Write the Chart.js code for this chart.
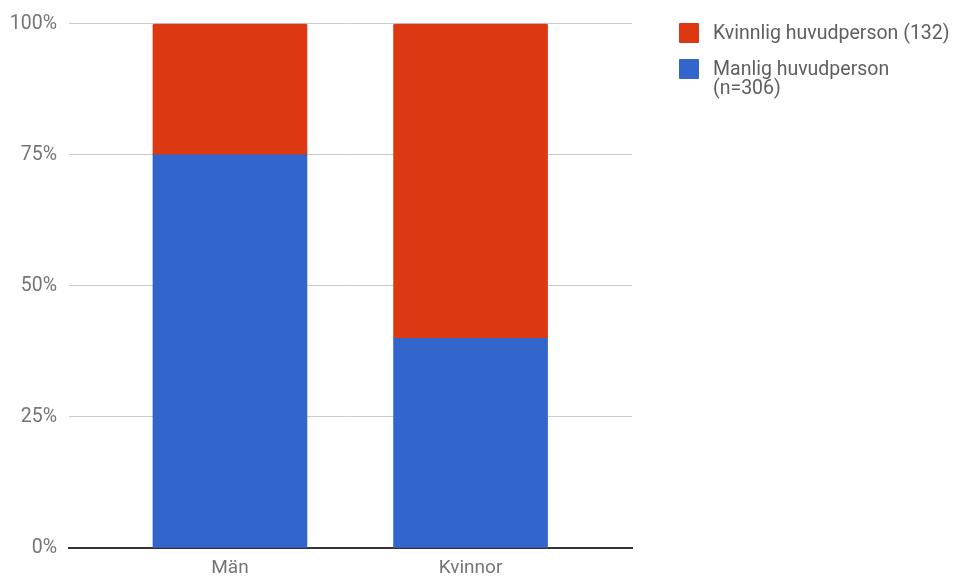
<!DOCTYPE html>
<html>
<head>
<meta charset="utf-8">
<script src="https://cdn.jsdelivr.net/npm/chart.js@4"></script>
<style>
    body { margin: 0; background: #fff; font-family: Roboto, sans-serif; }
    #wrap { position: relative; width: 961px; height: 576px; }
    #legend { position: absolute; left: 679px; top: 23px; margin: 0; padding: 0; list-style: none; }
    #legend li { position: relative; padding-left: 34px; margin-bottom: 17px; font-size: 19.5px; line-height: 19px; color: #5f5f5f; }
    #legend li span { position: absolute; left: 0; top: 0; width: 20px; height: 20px; border-radius: 1px; }
</style>
</head>
<body>
<div id="wrap">
    <canvas id="canvas" width="961" height="576"></canvas>
    <ul id="legend"></ul>
</div>
<script>
const categories = ["Män", "Kvinnor"];
const manlig = [75, 40];
const kvinnlig = [25, 60];
const yTicks = [0, 25, 50, 75, 100];

const BLUE = "#3366cc";
const RED = "#dc3912";
const GREY_TEXT = "#757575";

function l(element) {
    return document.getElementById(element);
}

function points(values) {
    return values.map((v, i) => ({x: i, y: v}));
}

const datasets = [
    {label: "Manlig huvudperson (n=306)", legendLines: ["Manlig huvudperson", "(n=306)"], data: points(manlig), backgroundColor: BLUE},
    {label: "Kvinnlig huvudperson (132)", legendLines: ["Kvinnlig huvudperson (132)"], data: points(kvinnlig), backgroundColor: RED,
        borderRadius: {topLeft: 2, topRight: 2}, borderSkipped: "bottom"}
];

const chart = new Chart(l("canvas"), {
    type: "bar",
    data: {datasets: datasets},
    options: {
        responsive: false,
        animation: false,
        layout: {padding: {left: 0, top: 22, right: 329, bottom: 0}},
        datasets: {bar: {barThickness: 154}},
        plugins: {legend: {display: false}, tooltip: {enabled: false}},
        scales: {
            x: {
                type: "linear",
                offset: false,
                stacked: true,
                min: -0.669,
                max: 1.671,
                afterBuildTicks: scale => { scale.ticks = categories.map((c, i) => ({value: i})); },
                afterFit: scale => { scale.height = 28; },
                grid: {display: false},
                border: {display: true, color: "#333", width: 2},
                ticks: {
                    padding: 1,
                    color: GREY_TEXT,
                    font: {family: "Roboto", size: 19},
                    callback: v => categories[v]
                }
            },
            y: {
                stacked: true,
                min: 0,
                max: 100,
                afterBuildTicks: scale => { scale.ticks = yTicks.map(v => ({value: v})); },
                afterFit: scale => { scale.width = 69; },
                border: {display: false},
                grid: {
                    drawTicks: false,
                    color: "#cccccc",
                    lineWidth: 1
                },
                ticks: {
                    padding: 12,
                    color: GREY_TEXT,
                    font: {family: "Roboto", size: 19.5},
                    callback: v => v + "%"
                }
            }
        }
    }
});

// legend lists the top stack segment first
let html = "";
for (let ds of datasets.slice().reverse()) {
    html += '<li><span style="background:' + ds.backgroundColor + '"></span>' + ds.legendLines.join("<br>") + "</li>";
}
l("legend").innerHTML = html;
</script>
</body>
</html>
